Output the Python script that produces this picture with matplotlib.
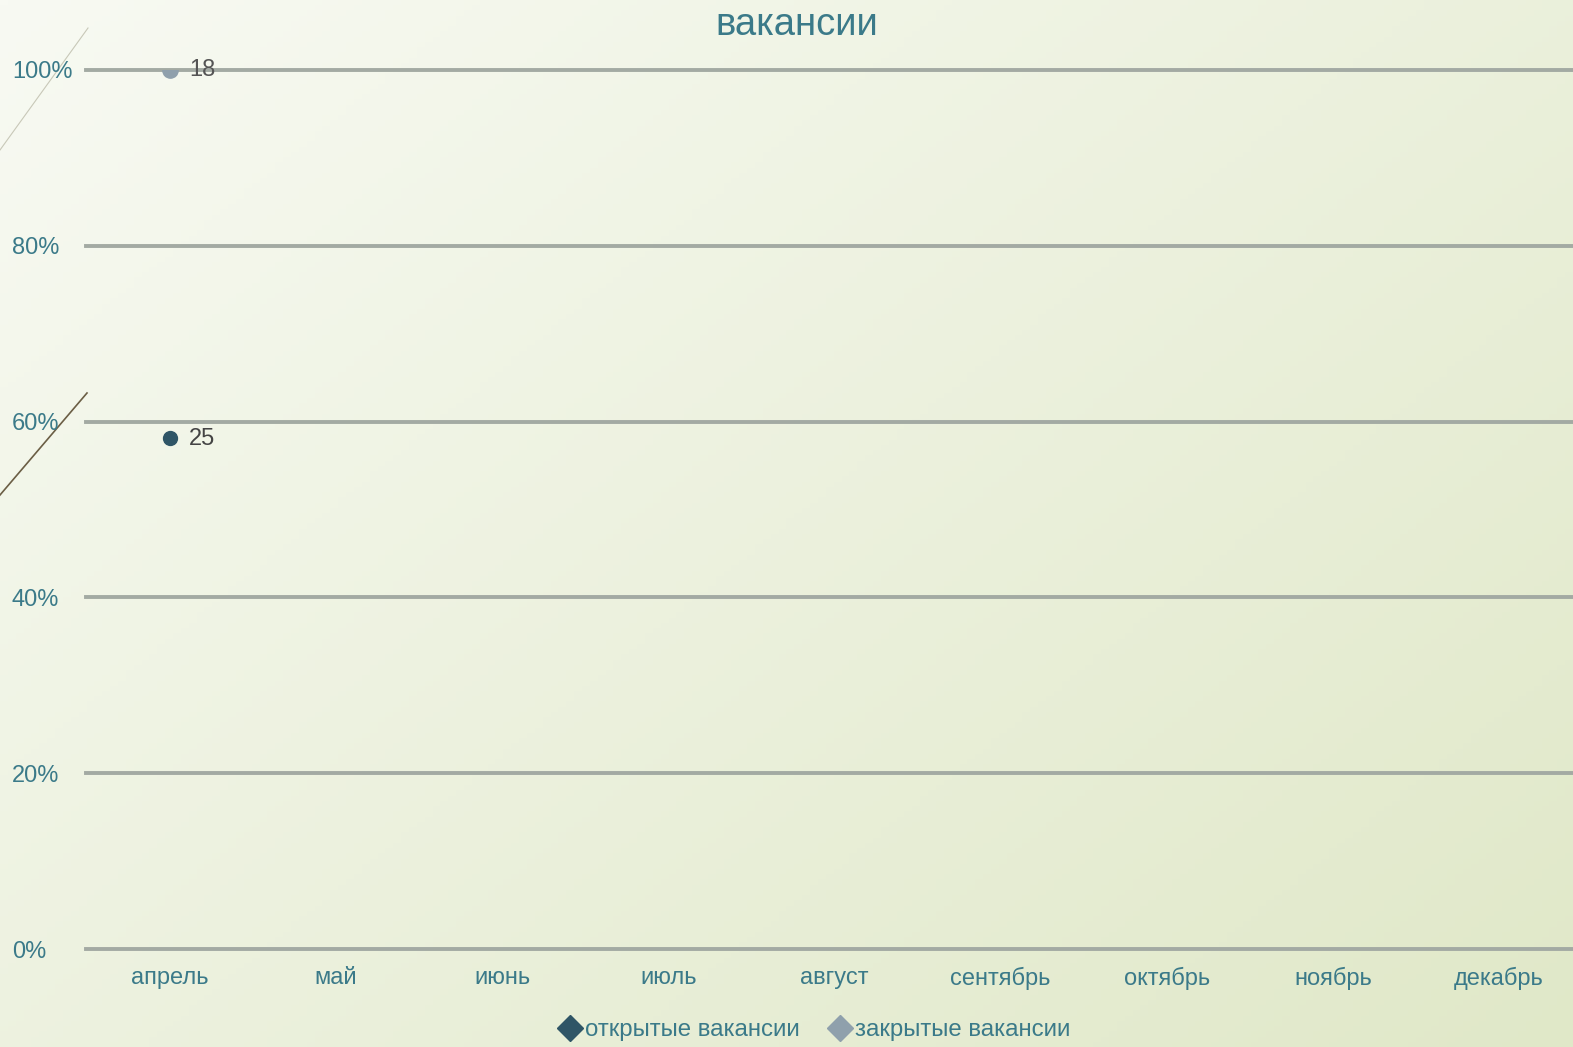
import numpy as np
import matplotlib.pyplot as plt
from matplotlib.lines import Line2D

# months on the x axis
months = ['апрель', 'май', 'июнь', 'июль', 'август', 'сентябрь', 'октябрь', 'ноябрь', 'декабрь']
# only April has values
open_vac = [25, None, None, None, None, None, None, None, None]
closed_vac = [18, None, None, None, None, None, None, None, None]
series_names = ['открытые вакансии', 'закрытые вакансии']
yticks = [0, 20, 40, 60, 80, 100]

col_open = '#2f5566'
col_closed = '#8fa0ac'
col_text = '#3b7a89'
col_grid = '#a3aaa3'

plt.rcParams['font.family'] = ['Liberation Sans', 'DejaVu Sans']

fig = plt.figure(figsize=(15.73, 10.47), dpi=100)

# background gradient
bg = fig.add_axes([0, 0, 1, 1])
bg.axis('off')
gx, gy = np.meshgrid(np.linspace(0, 1, 200), np.linspace(0, 1, 200))
t = np.clip(0.55 * gx + 0.45 * gy, 0, 1)
c0 = np.array([248, 250, 243]) / 255
c1 = np.array([224, 232, 200]) / 255
img = c0[None, None, :] * (1 - t[..., None]) + c1[None, None, :] * t[..., None]
bg.imshow(img, extent=[0, 1, 0, 1], aspect='auto', origin='upper')
bg.set_xlim(0, 1)
bg.set_ylim(0, 1)

# decorative slide lines on the left
W, H = 1573, 1047
bg.plot([0 / W, 88 / W], [1 - 150 / H, 1 - 28 / H], color='#c8c8b8', lw=0.8)
bg.plot([0 / W, 87 / W], [1 - 495 / H, 1 - 393 / H], color='#6b5e45', lw=1.2)

ax = fig.add_axes([86 / W, 1 - 949 / H, (1572 - 86) / W, (949 - 70) / H])
ax.patch.set_alpha(0)

x = np.arange(len(months))
pct_open = []
pct_closed = []
for o, c in zip(open_vac, closed_vac):
    if o is None or c is None:
        pct_open.append(np.nan)
        pct_closed.append(np.nan)
    else:
        pct_open.append(o / (o + c) * 100)
        pct_closed.append(100.0)

ax.plot(x, pct_open, marker='o', ms=10, color=col_open, lw=2, zorder=3)
ax.plot(x, pct_closed, marker='o', ms=11, color=col_closed, lw=2, zorder=3)
for i in range(len(months)):
    if open_vac[i] is not None:
        ax.annotate(str(open_vac[i]), (x[i], pct_open[i]), xytext=(14, -1),
                    textcoords='offset points', va='center', ha='left',
                    fontsize=17, color='#444444')
        ax.annotate(str(closed_vac[i]), (x[i], pct_closed[i]), xytext=(14, 0),
                    textcoords='offset points', va='center', ha='left',
                    fontsize=17, color='#555555')

ax.set_xlim(-0.505, 8.44)
ax.set_ylim(0, 100)
ax.set_yticks(yticks)
ax.set_yticklabels([f'{v}%' for v in yticks])
ax.set_xticks(x)
ax.set_xticklabels(months)
for v in yticks:
    ax.axhline(v, color=col_grid, lw=2.8, zorder=1, clip_on=False)
for s in ax.spines.values():
    s.set_visible(False)
ax.tick_params(axis='both', length=0, labelsize=17, colors=col_text)
ax.tick_params(axis='y', pad=(86 - 12) * 0.72)
ax.tick_params(axis='x', pad=13)
for lab in ax.get_yticklabels():
    lab.set_horizontalalignment('left')

fig.text(797 / W, 1 - 25 / H, 'вакансии', ha='center', va='center',
         fontsize=27.5, color=col_text)

handles = [Line2D([], [], marker='D', ms=13, color=col_open, lw=0),
           Line2D([], [], marker='D', ms=13, color=col_closed, lw=0)]
fig.legend(handles, series_names, loc='center', bbox_to_anchor=(814 / W, 1 - 1030 / H),
           ncol=2, frameon=False, fontsize=17.3, labelcolor=col_text,
           handletextpad=0.1, columnspacing=1.2, handlelength=1.0)

fig.savefig('out.png', dpi=100)
